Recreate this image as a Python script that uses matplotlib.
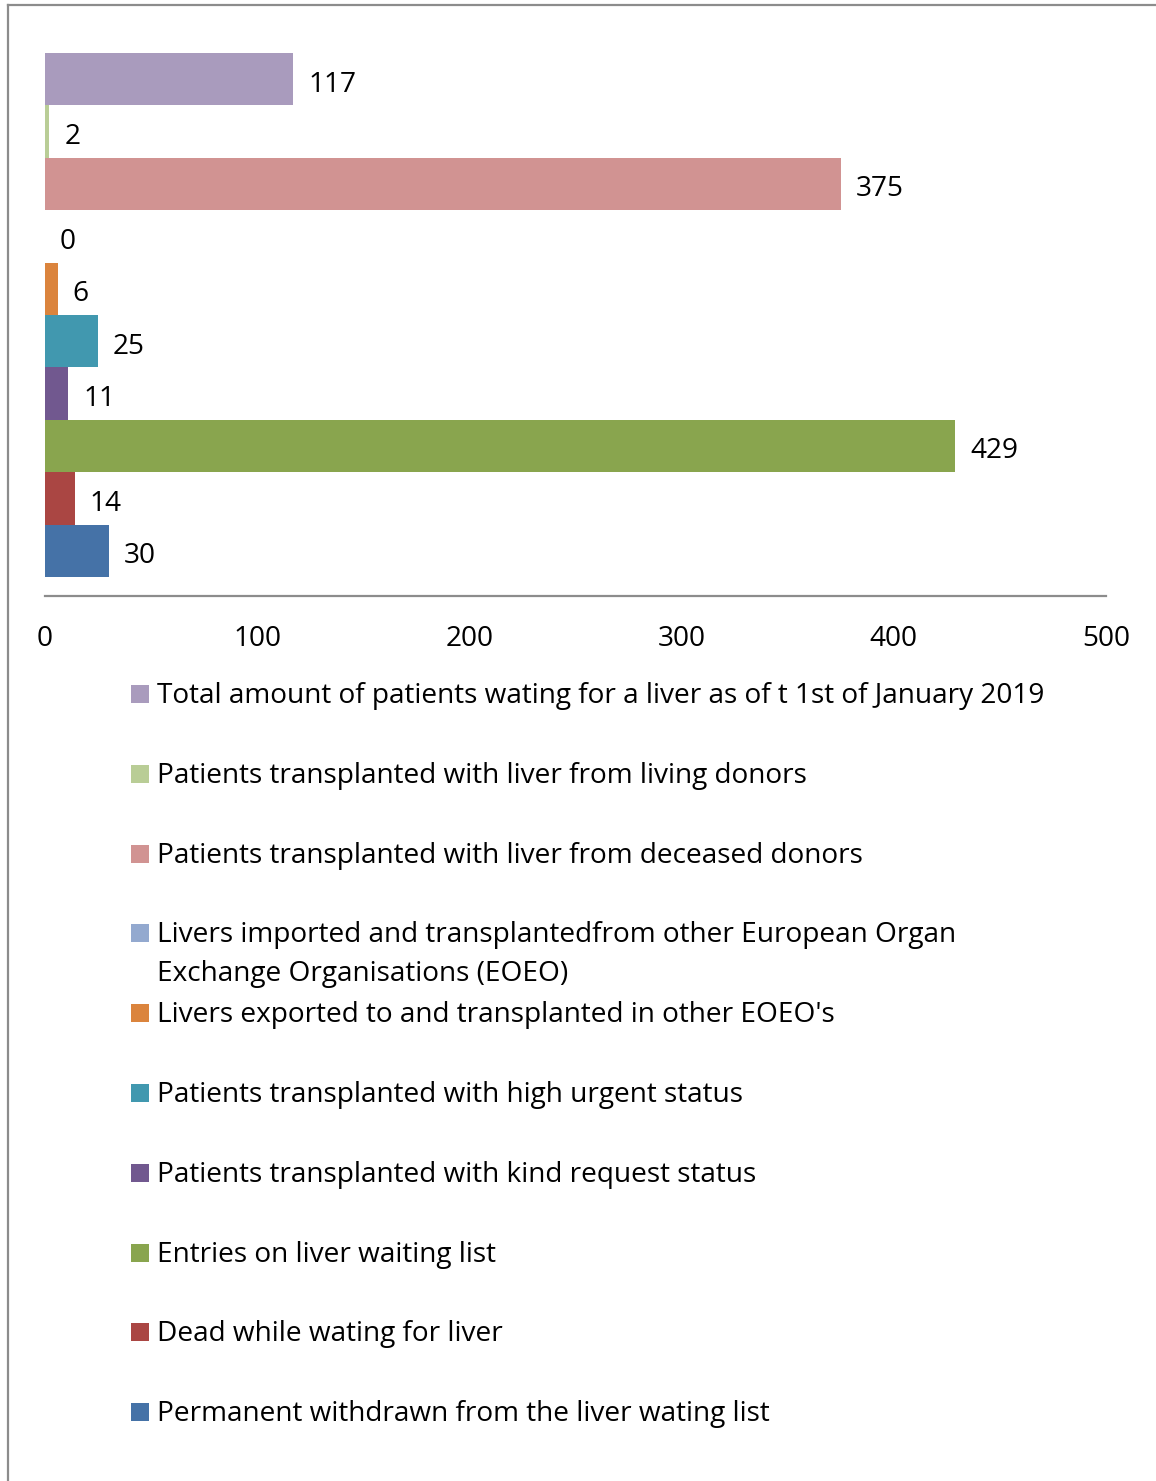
import matplotlib.pyplot as plt
import matplotlib.patches as patches
from matplotlib.lines import Line2D

# legend / top-to-bottom order
labels = [
    "Total amount of patients wating for a liver as of t 1st of January 2019",
    "Patients transplanted with liver from living donors",
    "Patients transplanted with liver from deceased donors",
    "Livers imported and transplantedfrom other European Organ\nExchange Organisations (EOEO)",
    "Livers exported to and transplanted in other EOEO's",
    "Patients transplanted with high urgent status",
    "Patients transplanted with kind request status",
    "Entries on liver waiting list",
    "Dead while wating for liver",
    "Permanent withdrawn from the liver wating list",
]
values = [117, 2, 375, 0, 6, 25, 11, 429, 14, 30]
colors = ["#A99BBD", "#B9CD96", "#D19392", "#93A9CF", "#DB843D",
          "#4198AF", "#71588F", "#89A54E", "#AA4643", "#4572A7"]
xticks = [0, 100, 200, 300, 400, 500]

W, H = 1156, 1481
FONT = "Open Sans"
FS = 20.2
GRAY = "#8c8c8c"

fig = plt.figure(figsize=(W / 100, H / 100), dpi=100)
plt.rcParams["font.family"] = [FONT, "DejaVu Sans"]

# axes placed in pixel terms
ax_l, ax_r, ax_t, ax_b = 45, 1106, 34, 596
ax = fig.add_axes([ax_l / W, 1 - ax_b / H, (ax_r - ax_l) / W, (ax_b - ax_t) / H])

n = len(values)
ypos = [n - 1 - i for i in range(n)]
ax.barh(ypos, values, height=1.0, color=colors, linewidth=0)
for y, v in zip(ypos, values):
    ax.annotate(str(v), (v, y), xytext=(15, -2), textcoords="offset pixels",
                va="center_baseline", ha="left", fontsize=FS)

ax.set_xlim(0, 500)
ax.set_ylim(-0.5 - 19 / 52.4, n - 0.5 + 19 / 52.4)
ax.set_xticks(xticks)
ax.set_xticklabels([str(t) for t in xticks], fontsize=FS)
ax.tick_params(axis="x", length=0, pad=21)
ax.set_yticks([])
for s in ["top", "right", "left"]:
    ax.spines[s].set_visible(False)
ax.spines["bottom"].set_color(GRAY)
ax.spines["bottom"].set_linewidth(1.6)

# legend drawn as a single column below the axis
base0, step, line_gap = 703, 79.8, 39
sq = 18
for i, (lab, c) in enumerate(zip(labels, colors)):
    yb = base0 + step * i
    fig.patches.append(patches.Rectangle((131 / W, 1 - yb / H), sq / W, sq / H,
                                         transform=fig.transFigure, facecolor=c,
                                         edgecolor="none"))
    for k, line in enumerate(lab.split("\n")):
        fig.text(157 / W, 1 - (yb + k * line_gap) / H, line, fontsize=FS,
                 va="baseline", ha="left")

# outer frame (top and left edges visible)
fig.add_artist(Line2D([8 / W, 1], [1 - 5 / H, 1 - 5 / H], transform=fig.transFigure,
                      color=GRAY, linewidth=1.6))
fig.add_artist(Line2D([8 / W, 8 / W], [0, 1 - 5 / H], transform=fig.transFigure,
                      color=GRAY, linewidth=1.6))

fig.savefig("out.png", dpi=100)
